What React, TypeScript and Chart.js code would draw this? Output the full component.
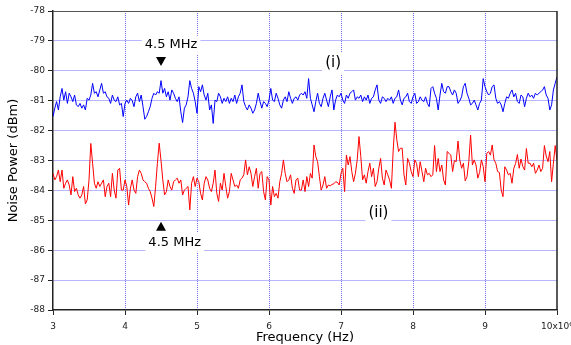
import React, { useEffect, useRef } from 'react';
import { Chart, registerables } from 'chart.js';

Chart.register(...registerables);

// Frequency axis (x 10^6 Hz): uniform sweep from 3 to 10 in 0.025 steps
const FREQ_START = 3;
const FREQ_STEP = 0.025;

// (i) blue trace, dBm
const BLUE_TRACE = [
  -81.53,-81.25,-81.03,-81.31,-80.87,-80.59,-80.98,-80.70,-81.09,-80.75,-80.87,-81.03,-80.81,-81.14,-81.20,-81.09,-81.25,-81.14,-81.31,-80.92,
  -80.98,-80.81,-80.42,-80.75,-80.70,-80.87,-80.64,-80.42,-80.75,-80.70,-80.87,-80.92,-81.09,-80.81,-80.98,-81.03,-80.87,-81.14,-81.09,-81.53,
  -81.09,-80.98,-81.09,-80.92,-81.00,-81.20,-80.87,-80.75,-81.03,-80.81,-81.20,-81.62,-81.53,-81.37,-81.20,-80.92,-80.75,-80.81,-80.70,-80.75,
  -80.33,-80.75,-80.59,-80.87,-80.70,-80.98,-80.64,-80.75,-80.92,-81.03,-80.87,-81.37,-81.73,-81.25,-81.14,-80.87,-80.33,-80.59,-80.75,-81.03,
  -81.42,-80.53,-80.70,-80.47,-80.81,-80.98,-80.75,-81.31,-81.14,-81.76,-80.98,-81.03,-80.75,-80.87,-81.09,-80.92,-81.03,-80.87,-81.09,-80.92,
  -81.03,-80.81,-81.09,-80.87,-80.75,-80.47,-81.03,-81.20,-81.31,-81.14,-81.25,-81.42,-81.31,-81.09,-80.75,-81.03,-81.25,-81.03,-81.09,-81.20,
  -80.98,-80.59,-80.98,-81.03,-80.75,-80.92,-81.14,-81.25,-80.98,-80.87,-81.03,-80.70,-80.92,-81.09,-80.92,-80.87,-80.98,-80.81,-80.75,-80.81,
  -80.70,-80.92,-80.26,-80.92,-81.14,-81.37,-81.03,-80.75,-81.09,-81.20,-80.92,-80.75,-80.98,-81.20,-80.87,-80.64,-81.31,-80.98,-80.81,-80.87,
  -80.75,-80.98,-81.09,-80.81,-80.92,-80.75,-80.70,-80.64,-80.98,-80.87,-80.92,-80.81,-81.03,-80.87,-80.98,-80.81,-81.09,-80.92,-80.87,-80.64,
  -80.47,-80.98,-81.09,-80.87,-80.92,-81.03,-80.92,-80.98,-80.87,-81.09,-80.92,-80.87,-80.64,-80.98,-81.14,-80.92,-80.87,-80.75,-81.03,-81.09,
  -80.87,-80.75,-81.09,-81.03,-80.87,-80.98,-81.03,-80.87,-81.09,-81.20,-80.59,-80.53,-80.75,-80.92,-81.31,-80.81,-80.42,-80.70,-80.75,-80.53,
  -80.53,-80.70,-80.81,-80.64,-80.75,-81.09,-81.00,-80.87,-80.53,-80.42,-80.75,-80.92,-81.14,-81.09,-80.98,-81.14,-81.31,-81.09,-80.98,-80.26,
  -80.53,-80.70,-80.81,-80.75,-80.53,-80.47,-80.92,-81.09,-81.03,-81.14,-81.37,-81.09,-80.87,-80.92,-80.75,-80.64,-80.87,-80.75,-81.03,-81.09,
  -80.81,-80.87,-81.20,-80.92,-80.75,-80.87,-80.81,-80.92,-80.75,-80.81,-80.75,-80.70,-80.64,-80.53,-80.81,-80.92,-81.31,-81.14,-80.64,-80.42,
  -80.20,
];

// (ii) red trace, dBm
const RED_TRACE = [
  -83.43,-83.65,-83.54,-83.32,-83.71,-83.32,-83.93,-83.76,-83.65,-83.82,-84.15,-83.54,-84.04,-83.93,-84.15,-84.26,-84.15,-83.87,-84.45,-84.32,
  -83.65,-82.43,-83.09,-83.76,-83.93,-83.71,-83.87,-83.76,-83.65,-84.21,-83.87,-83.76,-84.21,-83.43,-83.99,-84.26,-83.32,-83.26,-83.99,-83.99,
  -83.65,-83.87,-84.49,-83.93,-83.65,-83.99,-84.10,-83.54,-83.32,-83.43,-83.65,-83.71,-83.76,-83.93,-84.04,-84.26,-84.54,-83.87,-83.09,-82.42,
  -83.00,-83.65,-84.15,-84.04,-83.65,-83.87,-83.99,-83.71,-83.65,-83.59,-83.76,-83.65,-84.15,-83.99,-83.93,-83.87,-84.65,-83.76,-83.54,-83.87,
  -83.59,-83.71,-84.10,-84.32,-83.76,-83.54,-83.65,-83.93,-84.04,-83.76,-83.32,-84.10,-84.37,-83.76,-83.99,-83.43,-83.87,-84.26,-84.04,-83.43,
  -83.65,-83.87,-83.82,-83.93,-83.65,-83.59,-83.48,-82.98,-83.48,-83.21,-83.43,-83.87,-83.54,-83.26,-83.93,-83.43,-83.37,-84.04,-84.32,-83.54,
  -83.65,-84.49,-83.87,-84.21,-84.10,-84.26,-83.71,-83.43,-82.98,-83.43,-83.71,-83.65,-83.48,-83.93,-84.10,-83.65,-83.59,-83.99,-83.99,-83.65,
  -84.04,-83.54,-83.87,-83.43,-83.59,-82.48,-82.87,-83.04,-83.54,-83.99,-83.82,-83.54,-83.93,-83.82,-83.85,-83.80,-83.78,-83.71,-83.73,-83.82,
  -83.43,-83.26,-84.04,-82.82,-83.15,-82.87,-83.37,-83.71,-83.43,-82.98,-82.20,-82.87,-83.65,-83.48,-83.76,-83.37,-83.09,-83.54,-83.26,-83.87,
  -83.71,-83.26,-82.93,-83.59,-83.82,-83.32,-83.48,-83.65,-83.93,-82.65,-81.72,-82.31,-82.70,-82.59,-82.59,-83.48,-83.82,-82.93,-83.09,-83.37,
  -83.54,-82.98,-83.10,-83.54,-83.04,-83.37,-83.71,-83.26,-83.48,-83.43,-83.54,-83.48,-82.50,-83.37,-82.93,-83.37,-83.15,-83.65,-83.82,-82.70,
  -82.76,-82.82,-83.37,-83.00,-83.04,-82.35,-82.98,-83.26,-83.09,-83.68,-83.54,-83.04,-82.15,-83.15,-82.98,-83.15,-83.59,-83.40,-82.98,-83.20,
  -83.71,-82.76,-82.70,-82.82,-82.48,-82.98,-83.09,-83.37,-83.40,-83.99,-84.21,-83.21,-83.32,-83.48,-83.43,-83.76,-83.26,-83.10,-82.80,-83.26,
  -82.95,-83.20,-83.32,-82.60,-83.09,-83.09,-83.21,-83.09,-83.43,-83.32,-83.15,-83.37,-83.26,-82.50,-82.85,-83.04,-82.70,-83.71,-83.09,-82.50,
  -82.98,
];

const FREQ = BLUE_TRACE.map((_, i) => +(FREQ_START + i * FREQ_STEP).toFixed(3));

const X_MIN = 3;
const X_MAX = 10;
const Y_MIN = -88;
const Y_MAX = -78;

// Annotation anchors (data coordinates)
const MARKER_FREQ = 4.5;
const UPPER_LABEL = { text: '4.5 MHz', x: 4.64, y: -79.14 };
const UPPER_MARK_Y = -79.69;
const LOWER_MARK_Y = -85.2;
const LOWER_LABEL = { text: '4.5 MHz', x: 4.69, y: -85.74 };
const LABEL_I = { text: '(i)', x: 6.89, y: -79.74 };
const LABEL_II = { text: '(ii)', x: 7.52, y: -84.77 };

const FONT = '"DejaVu Sans", sans-serif';
const GRID_BLUE = '#6f6fff';
const AXIS_DARK = '#222';

const annotationPlugin = {
  id: 'annotations',
  afterDatasetsDraw(chart: any) {
    const { ctx, scales, chartArea } = chart;
    const xs = scales.x;
    const ys = scales.y;
    ctx.save();
    // frame: top and right
    ctx.strokeStyle = '#555';
    ctx.lineWidth = 1;
    ctx.beginPath();
    ctx.moveTo(chartArea.left, chartArea.top + 0.5);
    ctx.lineTo(chartArea.right, chartArea.top + 0.5);
    ctx.stroke();
    ctx.strokeStyle = AXIS_DARK;
    ctx.lineWidth = 1.5;
    ctx.beginPath();
    ctx.moveTo(chartArea.right, chartArea.top);
    ctx.lineTo(chartArea.right, chartArea.bottom);
    ctx.stroke();

    const label = (t: { text: string; x: number; y: number }, size: number) => {
      ctx.font = `${size}px ${FONT}`;
      const w = ctx.measureText(t.text).width;
      const px = xs.getPixelForValue(t.x);
      const py = ys.getPixelForValue(t.y);
      ctx.fillStyle = '#fff';
      ctx.fillRect(px - w / 2 - 3, py - size * 0.72, w + 6, size * 1.44);
      ctx.fillStyle = '#000';
      ctx.textAlign = 'center';
      ctx.textBaseline = 'middle';
      ctx.fillText(t.text, px, py);
    };
    const tri = (xv: number, yv: number, down: boolean) => {
      const px = xs.getPixelForValue(xv);
      const py = ys.getPixelForValue(yv);
      const h = 9;
      const hw = 5;
      ctx.fillStyle = '#000';
      ctx.beginPath();
      if (down) {
        ctx.moveTo(px - hw, py - h / 2);
        ctx.lineTo(px + hw, py - h / 2);
        ctx.lineTo(px, py + h / 2);
      } else {
        ctx.moveTo(px - hw, py + h / 2);
        ctx.lineTo(px + hw, py + h / 2);
        ctx.lineTo(px, py - h / 2);
      }
      ctx.closePath();
      ctx.fill();
    };
    label(UPPER_LABEL, 13);
    tri(MARKER_FREQ, UPPER_MARK_Y, true);
    label(LOWER_LABEL, 13);
    tri(MARKER_FREQ, LOWER_MARK_Y, false);
    label(LABEL_I, 15);
    label(LABEL_II, 15);
    ctx.restore();
  },
};

export default function App() {
  const ref = useRef<HTMLCanvasElement | null>(null);
  useEffect(() => {
    if (!ref.current) return;
    const edgeX = (c: any) =>
      c.tick && (c.tick.value === X_MIN || c.tick.value === X_MAX) ? 'rgba(0,0,0,0)' : GRID_BLUE;
    const edgeY = (c: any) =>
      c.tick && (c.tick.value === Y_MIN || c.tick.value === Y_MAX) ? 'rgba(0,0,0,0)' : GRID_BLUE;
    const chart = new Chart(ref.current, {
      type: 'line',
      data: {
        datasets: [
          {
            label: '(i)',
            data: FREQ.map((x, i) => ({ x, y: BLUE_TRACE[i] })),
            borderColor: '#0000ff',
            borderWidth: 1,
            pointRadius: 0,
            tension: 0,
          },
          {
            label: '(ii)',
            data: FREQ.map((x, i) => ({ x, y: RED_TRACE[i] })),
            borderColor: '#ff0000',
            borderWidth: 1,
            pointRadius: 0,
            tension: 0,
          },
        ],
      },
      options: {
        animation: false,
        responsive: false,
        maintainAspectRatio: false,
        layout: { padding: { left: 0, right: 14, top: 11, bottom: 0 } },
        plugins: { legend: { display: false }, tooltip: { enabled: false } },
        scales: {
          x: {
            type: 'linear',
            min: X_MIN,
            max: X_MAX,
            ticks: {
              stepSize: 1,
              autoSkip: false,
              maxRotation: 0,
              color: AXIS_DARK,
              padding: 6,
              font: { family: FONT, size: 9 },
              callback: (v: any) => (v === 10 ? '10x10\u2076' : String(v)),
            },
            grid: {
              color: edgeX,
              lineWidth: 1,
              tickLength: 5,
              tickColor: AXIS_DARK,
              tickWidth: 1,
            },
            border: { color: AXIS_DARK, width: 1.5, dash: [1, 1] },
            title: {
              display: true,
              text: 'Frequency (Hz)',
              color: '#000',
              font: { family: FONT, size: 13 },
              padding: { top: 0, bottom: 0 },
            },
            afterFit: (s: any) => {
              s.height = 35;
              s.paddingLeft = 0;
              s.paddingRight = 0;
            },
          },
          y: {
            type: 'linear',
            min: Y_MIN,
            max: Y_MAX,
            ticks: {
              stepSize: 1,
              color: AXIS_DARK,
              padding: 3,
              font: { family: FONT, size: 9 },
            },
            grid: {
              color: edgeY,
              lineWidth: 1,
              tickLength: 5,
              tickColor: AXIS_DARK,
              tickWidth: 1,
            },
            border: { color: AXIS_DARK, width: 1.5, dash: [1, 1] },
            title: {
              display: true,
              text: 'Noise Power (dBm)',
              color: '#000',
              font: { family: FONT, size: 13 },
              padding: { top: 6, bottom: 0 },
            },
            afterFit: (s: any) => {
              s.width = 53;
              s.paddingTop = 0;
              s.paddingBottom = 0;
            },
          },
        },
      },
      plugins: [annotationPlugin],
    } as any);
    return () => chart.destroy();
  }, []);
  return (
    <div style={{ position: 'absolute', left: 0, top: 0, width: 571, height: 345, background: '#fff' }}>
      <canvas ref={ref} width={571} height={345} style={{ display: 'block', width: 571, height: 345 }} />
    </div>
  );
}
